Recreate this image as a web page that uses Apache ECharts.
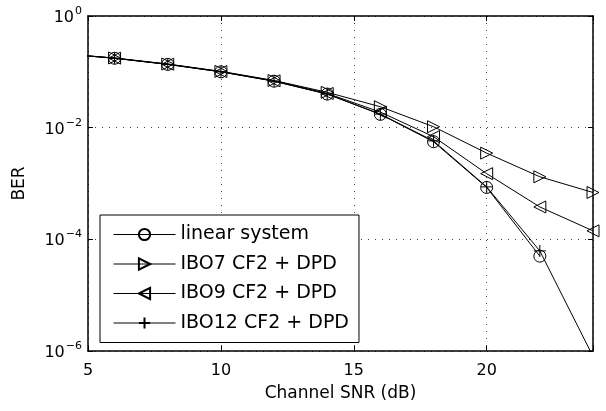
<!DOCTYPE html>
<html>
<head>
<meta charset="utf-8">
<script src="https://cdn.jsdelivr.net/npm/echarts@6/dist/echarts.min.js"></script>
<style>html,body{margin:0;padding:0;background:#fff;}#c{width:606px;height:411px;}</style>
</head>
<body>
<div id="c"></div>
<script>
const snr = [4, 6, 8, 10, 12, 14, 16, 18, 20, 22, 24];
const linearSystem = [0.211, 0.175, 0.136, 0.100, 0.068, 0.040, 0.0173, 0.0056, 8.5e-4, 5.0e-5, null];
const ibo7 = [0.211, 0.177, 0.138, 0.102, 0.070, 0.043, 0.0237, 0.0104, 3.5e-3, 1.32e-3, 6.9e-4];
const ibo9 = [0.211, 0.176, 0.137, 0.101, 0.069, 0.041, 0.019, 0.0069, 1.5e-3, 3.8e-4, 1.42e-4];
const ibo12 = [0.211, 0.175, 0.136, 0.100, 0.068, 0.040, 0.0175, 0.0058, 8.7e-4, 6.2e-5, 8e-7];
const seriesNames = ['linear system', 'IBO7 CF2 + DPD', 'IBO9 CF2 + DPD', 'IBO12 CF2 + DPD'];
const xTicks = [5, 10, 15, 20];
const yTickExps = [0, -2, -4, -6];

const FONT = '"DejaVu Sans", "Liberation Sans", Arial, sans-serif';
const pair = arr => snr.map((x, i) => [x, arr[i]]);
const plusPath = 'path://M0,-10 L0,10 M-10,0 L10,0';
const common = {
  type: 'line', clip: true, symbolSize: 12, showAllSymbol: true,
  lineStyle: { color: '#000', width: 1 },
  itemStyle: { color: 'transparent', borderColor: '#000', borderWidth: 1 },
  emphasis: { disabled: true }, animation: false
};
const gridDots = { color: '#444', type: [1, 6], width: 1 };
const chart = echarts.init(document.getElementById('c'), null, { renderer: 'canvas' });
chart.setOption({
  animation: false,
  backgroundColor: '#fff',
  textStyle: { fontFamily: FONT },
  grid: { left: 88, top: 16, right: 13, bottom: 60, containLabel: false },
  legend: {
    orient: 'vertical', left: 100, top: 215,
    padding: [10, 10, 10, 13], itemGap: 10.5,
    itemWidth: 62, itemHeight: 14,
    borderColor: '#000', borderWidth: 1, backgroundColor: '#fff',
    lineStyle: { width: 1, color: '#000' },
    textStyle: { fontFamily: FONT, fontSize: 19, color: '#000' },
    data: seriesNames
  },
  xAxis: [{
    type: 'value', min: 5, max: 24, interval: 5,
    name: 'Channel SNR (dB)', nameLocation: 'middle', nameGap: 34,
    nameTextStyle: { fontFamily: FONT, fontSize: 17, color: '#000' },
    axisLine: { lineStyle: { color: '#000', width: 1.5 } },
    axisTick: { inside: true, length: 5, lineStyle: { color: '#000' } },
    axisLabel: { fontFamily: FONT, fontSize: 16, color: '#000', margin: 12,
      formatter: v => xTicks.includes(v) ? String(v) : '' },
    splitLine: { show: true, lineStyle: gridDots }
  }, {
    type: 'value', position: 'top', min: 5, max: 24, interval: 5,
    axisLine: { lineStyle: { color: '#000', width: 1.5 } },
    axisTick: { inside: true, length: 5, lineStyle: { color: '#000' } },
    axisLabel: { show: false }, splitLine: { show: false }
  }],
  yAxis: [{
    type: 'log', logBase: 100, min: 1e-6, max: 1,
    name: 'BER', nameLocation: 'middle', nameGap: 60, nameRotate: 90,
    nameTextStyle: { fontFamily: FONT, fontSize: 17, color: '#000' },
    axisLine: { lineStyle: { color: '#000', width: 1.5 } },
    axisTick: { inside: true, length: 5, lineStyle: { color: '#000' } },
    axisLabel: {
      margin: 6, color: '#000',
      formatter: v => {
        const e = Math.round(Math.log10(v));
        if (!yTickExps.includes(e)) return '';
        return '{b|10}{s|' + (e < 0 ? '\u2212' + (-e) : e) + '}';
      },
      rich: {
        b: { fontFamily: FONT, fontSize: 16, color: '#000', padding: [4, 0, 0, 0] },
        s: { fontFamily: FONT, fontSize: 11, color: '#000', padding: [0, 0, 10, 1] }
      }
    },
    minorTick: { show: false },
    splitLine: { show: true, lineStyle: gridDots }
  }, {
    type: 'log', logBase: 100, min: 1e-6, max: 1, position: 'right',
    axisLine: { lineStyle: { color: '#000', width: 1.5 } },
    axisTick: { inside: true, length: 5, lineStyle: { color: '#000' } },
    axisLabel: { show: false }, splitLine: { show: false }
  }],
  series: [
    Object.assign({}, common, { name: seriesNames[0], symbol: 'circle', data: pair(linearSystem) }),
    Object.assign({}, common, { name: seriesNames[1], symbol: 'triangle', symbolRotate: -90, data: pair(ibo7) }),
    Object.assign({}, common, { name: seriesNames[2], symbol: 'triangle', symbolRotate: 90, data: pair(ibo9) }),
    Object.assign({}, common, { name: seriesNames[3], symbol: plusPath, data: pair(ibo12) })
  ]
});
</script>
</body>
</html>
